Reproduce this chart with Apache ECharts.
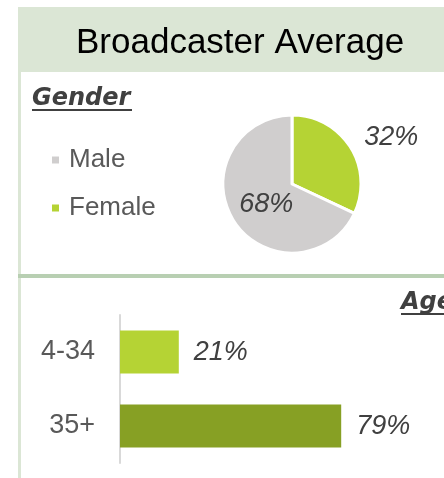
<!DOCTYPE html>
<html>
<head>
<meta charset="utf-8">
<script src="https://cdn.jsdelivr.net/npm/echarts@6/dist/echarts.min.js"></script>
<style>
  html, body { margin: 0; padding: 0; background: #fff; }
  #main { width: 444px; height: 478px; }
</style>
</head>
<body>
<div id="main"></div>
<script>
// gender split
const genderNames = ["Female", "Male"];
const genderValues = [32, 68];
const legendOrder = ["Male", "Female"];

// age split
const ageGroups = ["4-34", "35+"];
const ageValues = [21, 79];

const FONT = "Liberation Sans";
const HEAD_FONT = "DejaVu Sans";
const lightGreen = "#b5d334";
const darkGreen = "#87a024";
const grey = "#d0cece";

const chart = echarts.init(document.getElementById("main"));

const option = {
  textStyle: { fontFamily: FONT },
  animation: false,
  graphic: [
    { type: "rect", z: 0, shape: { x: 18, y: 7, width: 426, height: 65 }, style: { fill: "#dbe6d5" } },
    { type: "rect", z: 0, shape: { x: 18, y: 72, width: 3, height: 406 }, style: { fill: "#dbe6d5" } },
    { type: "rect", z: 0, shape: { x: 18, y: 274, width: 426, height: 4 }, style: { fill: "#b8cfb2" } },
    // underlines for section headings
    { type: "rect", z: 0, shape: { x: 32, y: 109, width: 100, height: 2 }, style: { fill: "#404040" } },
    { type: "rect", z: 0, shape: { x: 401, y: 313, width: 43, height: 2 }, style: { fill: "#404040" } }
  ],
  title: [
    {
      text: "Broadcaster Average",
      left: 76, top: 26, padding: 0,
      textStyle: { fontFamily: FONT, fontSize: 35, fontWeight: "normal", color: "#000" }
    },
    {
      text: "Gender",
      left: 32, top: 87, padding: 0,
      textStyle: { fontFamily: HEAD_FONT, fontSize: 24, fontWeight: "bold", fontStyle: "italic", color: "#404040" }
    },
    {
      text: "Age",
      left: 401, top: 291, padding: 0,
      textStyle: { fontFamily: HEAD_FONT, fontSize: 24, fontWeight: "bold", fontStyle: "italic", color: "#404040" }
    }
  ],
  legend: {
    data: legendOrder,
    orient: "vertical",
    left: 50, top: 147,
    padding: 0,
    icon: "rect",
    itemWidth: 9, itemHeight: 9,
    itemGap: 22,
    textStyle: { fontFamily: FONT, fontSize: 26, color: "#595959", lineHeight: 26, padding: [0, 0, 0, 4] }
  },
  grid: { left: 120, top: 315, width: 280, height: 148 },
  xAxis: { type: "value", min: 0, max: 100, show: false },
  yAxis: {
    type: "category",
    data: ageGroups,
    inverse: true,
    axisLine: { lineStyle: { color: "#d9d9d9", width: 2 } },
    axisTick: { show: false },
    axisLabel: { fontFamily: FONT, fontSize: 27, color: "#595959", margin: 25 }
  },
  series: [
    {
      type: "pie",
      center: [292, 184],
      radius: 69,
      startAngle: 90,
      clockwise: true,
      itemStyle: { borderColor: "#fff", borderWidth: 3 },
      labelLine: { show: false, length: 20, length2: 0 },
      labelLayout: (p) => (p.dataIndex === 0 ? { dx: -8, dy: 1 } : { dx: 6 }),
      emphasis: { disabled: true },
      data: genderNames.map((n, i) => ({
        name: n,
        value: genderValues[i],
        itemStyle: { color: n === "Female" ? lightGreen : grey },
        label: {
          show: true,
          position: n === "Female" ? "outside" : "inside",
          formatter: "{c}%",
          fontFamily: FONT,
          fontSize: 27,
          fontStyle: "italic",
          color: "#404040"
        }
      }))
    },
    {
      type: "bar",
      barWidth: 43,
      silent: true,
      label: {
        show: true,
        position: "right",
        distance: 15,
        formatter: "{c}%",
        fontFamily: FONT,
        fontSize: 27,
        fontStyle: "italic",
        color: "#404040"
      },
      data: ageValues.map((v, i) => ({
        value: v,
        itemStyle: { color: i === 0 ? lightGreen : darkGreen }
      }))
    }
  ]
};

chart.setOption(option);
</script>
</body>
</html>
